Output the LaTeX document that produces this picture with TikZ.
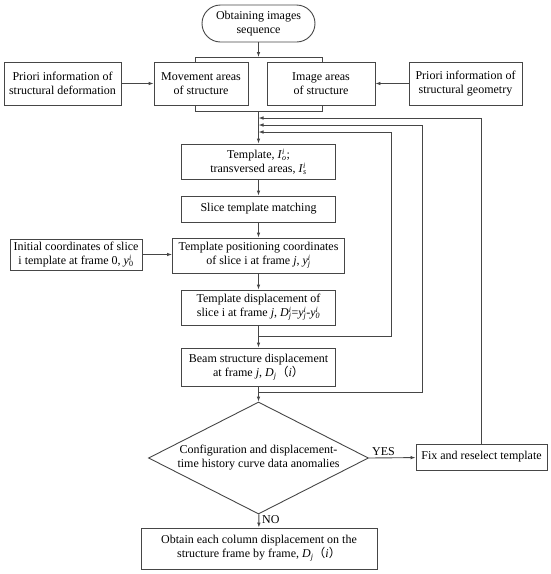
\documentclass[tikz,border=0pt]{standalone}
\usepackage{fontspec}
\setmainfont{Liberation Serif}
\newfontfamily\cjkfont{Noto Sans CJK SC}
\usetikzlibrary{shapes.geometric,arrows.meta}
\definecolor{lc}{RGB}{70,70,70}
\newcommand\SubSup[2]{\rlap{\textsuperscript{\itshape #2}}\textsubscript{\itshape #1}}
\newcommand\fwl{{\cjkfont （}}
\newcommand\fwr{{\cjkfont ）}}
\tikzset{
  box/.style={draw=lc, line width=0.9pt, align=center, inner sep=1pt, font=\fontsize{12}{14}\selectfont},
  ln/.style={draw=lc, line width=0.9pt},
  arr/.style={ln, -{Latex[length=5pt,width=3.6pt]}},
  lbl/.style={font=\fontsize{12}{14}\selectfont, inner sep=0pt}
}
\begin{document}
\begin{tikzpicture}[x=1pt,y=-1pt]
\useasboundingbox (0,0) rectangle (550,574);
% nodes
\node[box, rounded corners=18.5pt, minimum width=113pt, minimum height=37pt] (term) at (258.5,23.5) {Obtaining images\\sequence};
\node[box, minimum width=117pt, minimum height=43pt] (priL) at (62.5,83.5) {Priori information of\\structural deformation};
\node[box, minimum width=94pt, minimum height=43pt] (move) at (201,83.5) {Movement areas\\of structure};
\node[box, minimum width=108pt, minimum height=43pt] (imga) at (321,83.5) {Image areas\\of structure};
\node[box, minimum width=113pt, minimum height=43pt] (priR) at (465.5,83.5) {Priori information of\\structural geometry};
\node[box, minimum width=154pt, minimum height=35pt] (templ) at (258.5,161.5) {Template, \textit{I}\SubSup{o}{i};\\transversed areas, \textit{I}\SubSup{s}{i}};
\node[box, minimum width=154pt, minimum height=26pt] (slice) at (258.5,209) {Slice template matching};
\node[box, minimum width=172pt, minimum height=35pt] (posit) at (258.5,255.5) {Template positioning coordinates\\of slice i at frame \textit{j}, \textit{y}\SubSup{j}{i}};
\node[box, minimum width=132pt, minimum height=31pt] (init) at (76,254.5) {Initial coordinates of slice\\i template at frame 0, \textit{y}\rlap{\textsuperscript{\itshape i}}\textsubscript{0}};
\node[box, minimum width=154pt, minimum height=35pt] (disp) at (258.5,307.5) {Template displacement of\\slice i at frame \textit{j}, \textit{D}\SubSup{j}{i}=\textit{y}\SubSup{j}{i}-\textit{y}\rlap{\textsuperscript{\itshape i}}\textsubscript{\itshape 0}};
\node[box, minimum width=154pt, minimum height=38pt] (beam) at (258.5,367) {Beam structure displacement\\at frame \textit{j}, \textit{D}\textsubscript{\itshape j}\fwl\textit{i}\fwr};
\node[diamond, draw=lc, line width=0.9pt, minimum width=220pt, minimum height=112pt, inner sep=0pt] (dec) at (258.5,458) {};
\node[lbl, align=center] (dect) at (258.5,458) {Configuration and displacement-\\time history curve data anomalies};
\node[box, minimum width=131pt, minimum height=26pt] (fix) at (481.5,457) {Fix and reselect template};
\node[box, minimum width=236pt, minimum height=41pt] (final) at (259,548.5) {Obtain each column displacement on the\\structure frame by frame, \textit{D}\textsubscript{\itshape j}\fwl\textit{i}\fwr};
\node[lbl, anchor=south west] (yes) at (372,456) {YES};
\node[lbl, anchor=west] (no) at (262,520) {NO};
% coordinates
\coordinate (btop) at (258.5,57);
\coordinate (btl) at (195,57);
\coordinate (btr) at (322,57);
\coordinate (bbot) at (258.5,111);
\coordinate (bbl) at (195,111);
\coordinate (bbr) at (322,111);
\coordinate (f3) at (258.5,118);
\coordinate (f2) at (258.5,125);
\coordinate (f1) at (258.5,132);
\coordinate (l1s) at (258.5,336);
\coordinate (l1c) at (391,132);
\coordinate (l2s) at (258.5,392);
\coordinate (l2c) at (422,125);
% connectors
\draw[arr] (term) -- (btop);
\draw[ln] (btl |- move.north) -- (btl) -- (btr) -- (btr |- imga.north);
\draw[ln] (bbl |- move.south) -- (bbl) -- (bbr) -- (bbr |- imga.south);
\draw[arr] (priL) -- (move);
\draw[arr] (priR) -- (imga);
\draw[arr] (bbot) -- (templ);
\draw[arr] (templ) -- (slice);
\draw[arr] (slice) -- (posit);
\draw[arr] (init) -- (init -| posit.west);
\draw[arr] (posit) -- (disp);
\draw[arr] (disp) -- (beam);
\draw[arr] (beam) -- (dec);
\draw[arr] (dec.east) -- (fix);
\draw[arr] (dec) -- (final);
\draw[arr] (l1s) -| (l1c) -- (f1);
\draw[arr] (l2s) -| (l2c) -- (f2);
\draw[arr] (fix.north) |- (f3);
\end{tikzpicture}
\end{document}
